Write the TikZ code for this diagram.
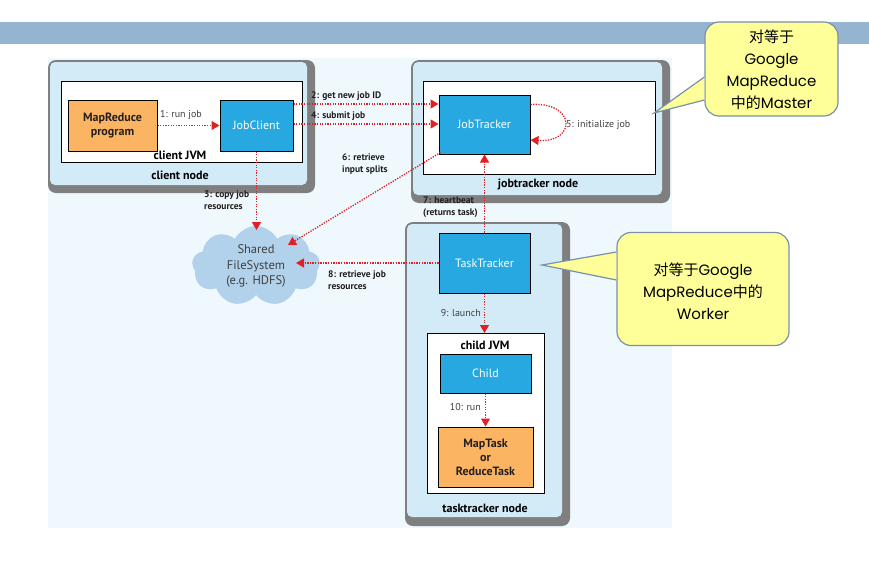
\documentclass[tikz,border=0pt]{standalone}
\usepackage{fontspec}
\setmainfont{PT Sans}
\newfontfamily\cjk{Noto Sans CJK SC}
\newfontfamily\callfont{Poppins}
\usetikzlibrary{arrows.meta,shapes.symbols,calc}
\definecolor{barc}{HTML}{95B4D2}
\definecolor{panelc}{HTML}{EEF8FD}
\definecolor{nodebg}{HTML}{D3EBF7}
\definecolor{shadowc}{HTML}{7F7F80}
\definecolor{bluec}{HTML}{27A8E0}
\definecolor{orangec}{HTML}{FBB562}
\definecolor{redc}{HTML}{E01F26}
\definecolor{yellowc}{HTML}{FFFF99}
\definecolor{callborder}{HTML}{7890AA}
\definecolor{cloudc}{HTML}{B2D2EB}
\definecolor{labelc}{HTML}{404040}
\definecolor{darkc}{HTML}{231F20}
\begin{document}
\begin{tikzpicture}[x=1pt,y=-1pt,
  shadowbox/.style={fill=shadowc,rounded corners=8pt},
  outerbox/.style={fill=nodebg,rounded corners=5pt},
  jvmbox/.style={fill=white,draw=black,line width=1pt},
  bluebox/.style={rectangle,fill=bluec,draw=black,line width=1pt,text=white,font=\fontsize{12}{13}\selectfont,inner sep=0pt},
  orangebox/.style={rectangle,fill=orangec,draw=black,line width=1pt,text=darkc,font=\fontsize{12}{14}\selectfont\bfseries,align=center,inner sep=0pt},
  arr/.style={draw=redc,line width=1.3pt,dash pattern=on 1.3pt off 1.3pt,-{Triangle[length=8pt,width=9pt]}},
  boldlbl/.style={font=\fontsize{9.5}{12}\selectfont\bfseries,text=darkc,align=left,inner sep=0pt},
  lbl/.style={font=\fontsize{10}{11}\selectfont,text=labelc,inner sep=0pt},
  titlelbl/.style={font=\fontsize{12}{13}\selectfont\bfseries,text=black,inner sep=0pt},
  callbox/.style={rectangle,rounded corners=14pt,fill=yellowc,draw=callborder,line width=1.2pt,inner sep=0pt},
  calltext/.style={font=\fontsize{15}{22}\selectfont\callfont,text=black,align=center,inner sep=0pt}
]
\useasboundingbox (0,0) rectangle (869,560);
% header bar and panel
\fill[barc] (0,22) rectangle (869,44);
\fill[panelc] (48,58) rectangle (672,528);

% client node
\fill[shadowbox] (48,60) rectangle (315,193);
\fill[outerbox] (50,62) rectangle (307,185);
\draw[jvmbox] (61,81) rectangle (302,162);
\node[titlelbl] (clientjvm) at (180,155) {client JVM};
\node[titlelbl] (clientnode) at (180,175) {client node};
\node[orangebox,minimum width=89pt,minimum height=51pt] (mrprog) at (112.5,125.5) {MapReduce\\program};
\node[bluebox,minimum width=73pt,minimum height=51pt] (jobclient) at (256.5,125.5) {JobClient};

% jobtracker node
\fill[shadowbox] (411,60) rectangle (670,203);
\fill[outerbox] (413,62) rectangle (662,195);
\draw[jvmbox] (423,81) rectangle (655,174);
\node[titlelbl] (jtnode) at (538,184) {jobtracker node};
\node[bluebox,minimum width=91pt,minimum height=59pt] (jobtracker) at (484.5,124.5) {JobTracker};

% tasktracker node
\fill[shadowbox] (405,222) rectangle (570,526);
\fill[outerbox] (407,224) rectangle (562,517);
\draw[jvmbox] (427,333) rectangle (544,493);
\node[titlelbl] (childjvm) at (485,345) {child JVM};
\node[titlelbl] (ttnode) at (485,508) {tasktracker node};
\node[bluebox,minimum width=91pt,minimum height=60pt] (tasktracker) at (484.5,263) {TaskTracker};
\node[bluebox,minimum width=91pt,minimum height=39pt] (child) at (485.5,373.5) {Child};
\node[orangebox,minimum width=95pt,minimum height=60pt] (maptask) at (485.5,457) {MapTask\\or\\ReduceTask};
\coordinate (childtop) at (484.5,333);

% shared filesystem
\node[cloud,cloud puffs=9,cloud puff arc=125,aspect=1.6,fill=cloudc,minimum width=128pt,minimum height=80pt,inner sep=0pt,
  align=center,text=labelc,font=\fontsize{12.5}{15.5}\selectfont] (cloud) at (256,266) {Shared\\FileSystem\\(e.g. HDFS)};
\coordinate (cloudtop) at (256.5,230);
\coordinate (cloud6) at (288,245);
\coordinate (cloud8) at (296,263);

% arrows
\draw[arr] (mrprog.east) -- (jobclient.west);
\node[lbl,anchor=south west] (l1) at (160,120) {1: run job};

\coordinate (a2) at ([yshift=21.5pt]jobclient.east);
\draw[arr] (a2) -- (a2 -| jobtracker.west);
\node[boldlbl,anchor=south west] (l2) at (311,101) {2: get new job ID};

\coordinate (a4) at ([yshift=1.5pt]jobclient.east);
\draw[arr] (a4) -- (a4 -| jobtracker.west);
\node[boldlbl,anchor=south west] (l4) at (311,121) {4: submit job};

\draw[arr] ([yshift=20pt]jobtracker.east) .. controls +(46,-3) and +(46,3) .. ([yshift=-15.5pt]jobtracker.east);
\node[lbl,anchor=west] (l5) at (566,125) {5: initialize job};

\draw[arr] (jobclient.south) -- (cloudtop);
\node[boldlbl,anchor=north west] (l3) at (204,191) {3: copy job\\resources};

\draw[arr] ([xshift=2pt,yshift=2pt]jobtracker.south west) -- (cloud6);
\node[boldlbl,anchor=north west] (l6) at (342,154) {6: retrieve\\input splits};

\draw[arr] (tasktracker.north) -- (jobtracker.south);
\node[boldlbl,anchor=north west] (l7) at (423,197) {7: heartbeat\\(returns task)};

\draw[arr] (tasktracker.west) -- (cloud8);
\node[boldlbl,anchor=north west] (l8) at (328,271) {8: retrieve job\\resources};

\draw[arr] (tasktracker.south) -- (childtop);
\node[lbl,anchor=east] (l9) at (481,313) {9: launch};

\draw[arr] (child.south) -- (maptask.north);
\node[lbl,anchor=east] (l10) at (481,407) {10: run};

% callout 1 (Master)
\node[callbox,minimum width=133pt,minimum height=94pt] (call1) at (771.5,69) {};
\coordinate (tip1) at (654,113);
\fill[yellowc] ([yshift=-8pt]call1.west) -- (tip1) -- ([yshift=-31pt]call1.west) -- cycle;
\draw[callborder,line width=1.2pt] ([yshift=-8pt]call1.west) -- (tip1) -- ([yshift=-31pt]call1.west);
\node[calltext] (t1) at (771.5,70) {{\cjk 对等于}\\Google\\MapReduce\\{\cjk 中的}Master};

% callout 2 (Worker)
\node[callbox,minimum width=172pt,minimum height=113pt] (call2) at (703,289) {};
\coordinate (tip2) at (542,265);
\fill[yellowc] ([yshift=37pt]call2.west) -- (tip2) -- ([yshift=9pt]call2.west) -- cycle;
\draw[callborder,line width=1.2pt] ([yshift=37pt]call2.west) -- (tip2) -- ([yshift=9pt]call2.west);
\node[calltext] (t2) at (703,291) {{\cjk 对等于}Google\\MapReduce{\cjk 中的}\\Worker};
\end{tikzpicture}
\end{document}
